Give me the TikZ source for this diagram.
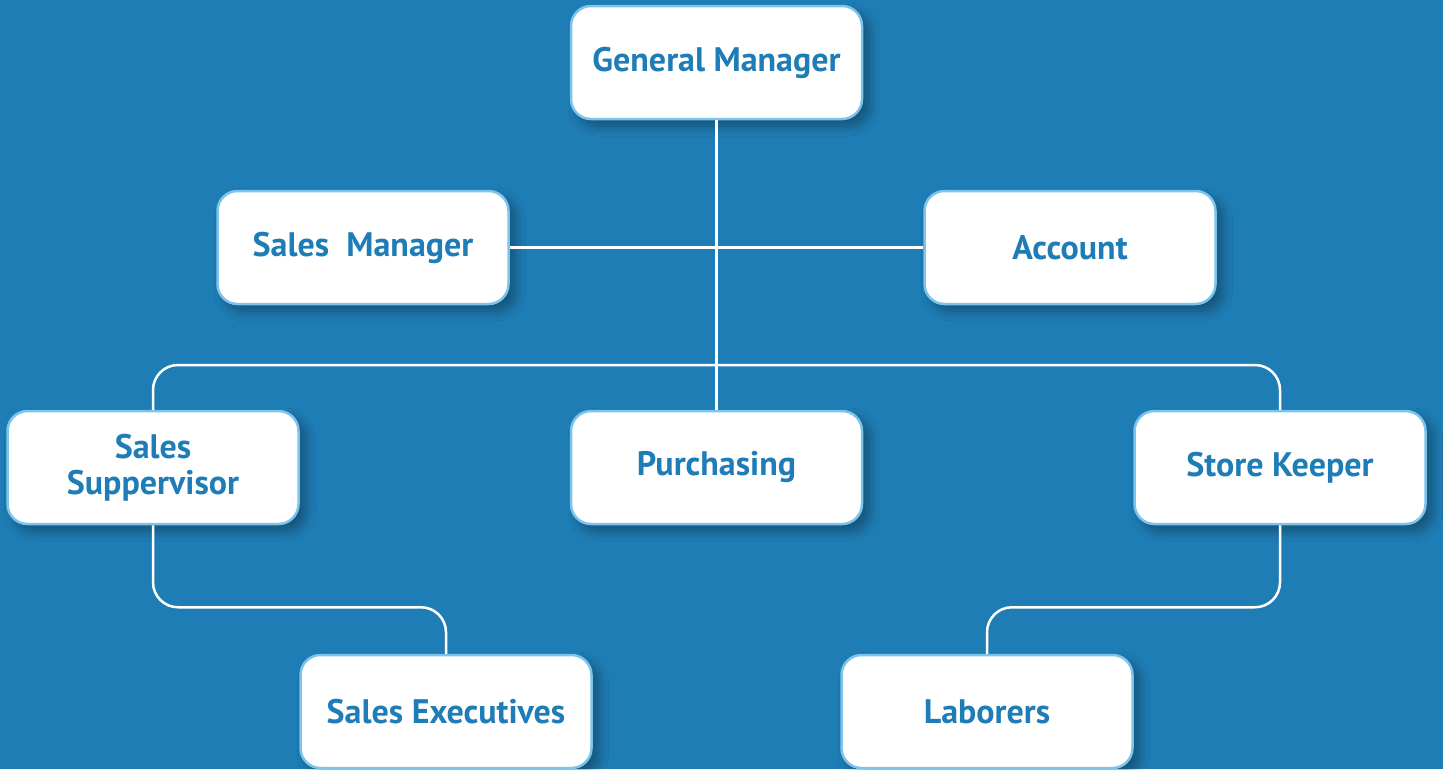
\documentclass[tikz,border=0pt]{standalone}
\usepackage{fontspec}
\setmainfont{PT Sans}
\usetikzlibrary{shadows.blur}
\definecolor{bg}{RGB}{31,125,181}
\definecolor{bordercol}{RGB}{125,196,236}
\definecolor{txt}{RGB}{30,124,182}
\begin{document}
\begin{tikzpicture}[x=1pt,y=-1pt,
  box/.style={draw=bordercol, line width=2.5pt, fill=white, rounded corners=20pt,
    minimum width=291pt, minimum height=113pt, inner sep=0pt,
    font=\bfseries\fontsize{34}{36}\selectfont, text=txt, align=center,
    blur shadow={shadow xshift=7pt, shadow yshift=-7pt, shadow blur steps=12, shadow opacity=35, shadow blur radius=10pt}},
  conn/.style={draw=white, line width=2.5pt, rounded corners=25pt}]
\fill[bg] (0,0) rectangle (1443,769);
\useasboundingbox (0,0) rectangle (1443,769);
\coordinate (hj) at (716.5,365);
\node[box] (gm) at (716.5,62.5) {General Manager};
\node[box] (sm) at (363,247.5) {Sales~ Manager};
\node[box] (acc) at (1070,247.5) {Account};
\node[box] (ss) at (153,467.5) {Sales\\Suppervisor};
\node[box] (pur) at (716.5,467.5) {Purchasing};
\node[box] (sk) at (1280,467.5) {Store Keeper};
\node[box] (se) at (446,711.5) {Sales Executives};
\node[box] (lab) at (987,711.5) {Laborers};
\draw[conn] (gm.south) -- (pur.north);
\draw[conn] (sm.east) -- (acc.west);
\draw[conn] (ss.north) |- (hj) -| (sk.north);
\draw[conn] (ss.south) -- ++(0,82) -| (se.north);
\draw[conn] (sk.south) -- ++(0,82) -| (lab.north);
\end{tikzpicture}
\end{document}
